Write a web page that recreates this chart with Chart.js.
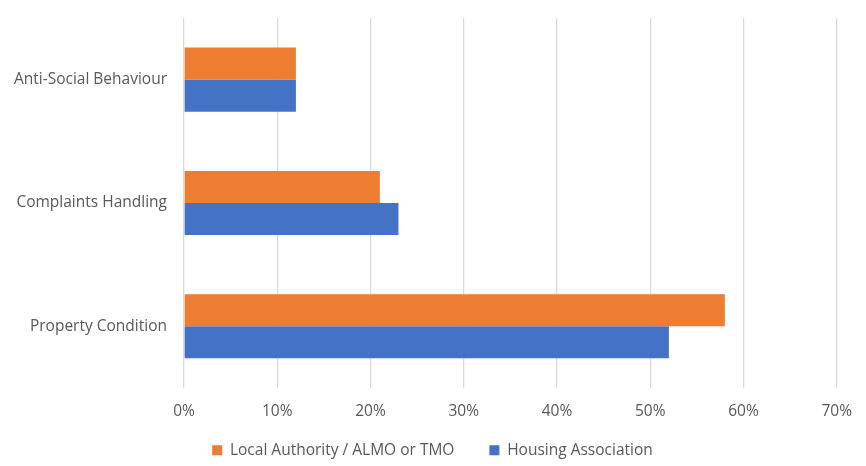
<!doctype html>
<html lang="en">
<head>
    <meta charset="UTF-8">
    <title>Complaints by landlord type</title>
    <style>
        * {
            margin: 0;
            padding: 0;
            box-sizing: border-box;
        }

        body {
            background: #fff;
        }

        #wrap {
            width: 866px;
            height: 466px;
        }
    </style>
</head>
<body>

<div id="wrap">
    <canvas id="myChart"></canvas>
</div>

<script src="https://cdn.jsdelivr.net/npm/chart.js"></script>

<script>
    const categories = ['Anti-Social Behaviour', 'Complaints Handling', 'Property Condition'];
    const localAuthority = [0.12, 0.21, 0.58];
    const housingAssociation = [0.12, 0.23, 0.52];
    const seriesNames = ['Local Authority / ALMO or TMO', 'Housing Association'];
    const tickLabels = ['0%', '10%', '20%', '30%', '40%', '50%', '60%', '70%'];

    const font = {family: "'Open Sans', sans-serif", size: 15.5};

    const data = {
        labels: categories,
        datasets: [{
            label: seriesNames[0],
            data: localAuthority,
            backgroundColor: '#ED7D31'
        }, {
            label: seriesNames[1],
            data: housingAssociation,
            backgroundColor: '#4472C4'
        }]
    };

    // x scale is squeezed so the legend can sit closer; don't clip its labels
    const unclipX = {
        id: 'unclipX',
        afterLayout(chart) {
            chart.scales.x.bottom = chart.height;
        }
    };

    const config = {
        type: 'bar',
        data: data,
        plugins: [unclipX],
        options: {
            indexAxis: 'y',
            responsive: true,
            maintainAspectRatio: false,
            animation: false,
            layout: {
                // legend padding is big (item gap), let its lower part hang off the canvas
                padding: {top: 18, right: 15, bottom: -2, left: 14}
            },
            datasets: {
                bar: {
                    categoryPercentage: 0.52,
                    barPercentage: 1
                }
            },
            scales: {
                x: {
                    min: 0,
                    max: 0.7,
                    afterFit: (scale) => { scale.height -= 27; },
                    ticks: {
                        stepSize: 0.1,
                        color: '#595959',
                        font: font,
                        padding: 14,
                        callback: (v, i) => tickLabels[i]
                    },
                    grid: {
                        color: '#D9D9D9',
                        lineWidth: 1.3,
                        drawTicks: false
                    },
                    border: {display: false}
                },
                y: {
                    afterFit: (scale) => {
                        scale.width = 170;
                        scale.paddingTop = 0;
                        scale.paddingBottom = 0;
                    },
                    ticks: {
                        color: '#595959',
                        font: font,
                        padding: 17
                    },
                    grid: {display: false, drawTicks: false},
                    border: {display: false}
                }
            },
            plugins: {
                legend: {
                    position: 'bottom',
                    labels: {
                        color: '#595959',
                        font: font,
                        boxWidth: 10,
                        boxHeight: 10,
                        padding: 35
                    }
                },
                tooltip: {enabled: false}
            }
        }
    };

    // wait for the font, otherwise label widths get measured with the fallback
    let myChart;
    document.fonts.load('15.5px "Open Sans"').then(() => {
        myChart = new Chart(document.getElementById('myChart'), config);
    });
</script>

</body>
</html>
